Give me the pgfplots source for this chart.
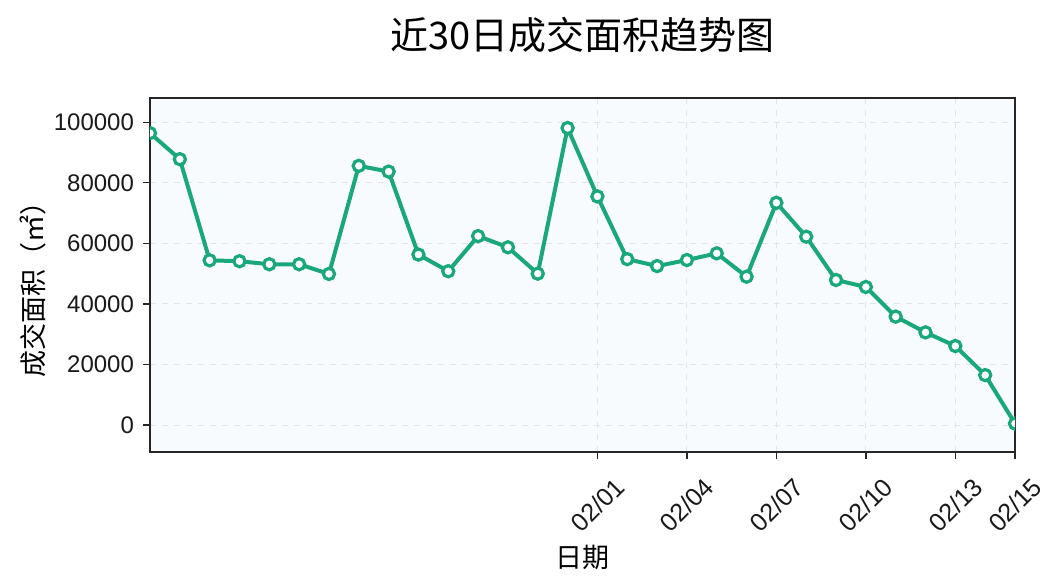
\documentclass[border=0pt]{standalone}
\usepackage{pgfplots}
\pgfplotsset{compat=1.18}
\usepackage{fontspec}
\setmainfont{Liberation Sans}
\newfontfamily\cjk{Noto Sans CJK SC}
\definecolor{lgreen}{RGB}{26,168,122}
\definecolor{axbg}{RGB}{248,251,253}
\definecolor{gridc}{RGB}{225,228,232}
\begin{document}
\begin{tikzpicture}[x=1pt,y=1pt]
\path (-75pt,-66.5pt) rectangle (457pt,226pt);
\begin{axis}[
  at={(0pt,0pt)}, anchor=south west,
  scale only axis, width=432.5pt, height=177pt,
  xmin=0, xmax=29, ymin=-8900, ymax=108000,
  axis background/.style={fill=axbg},
  axis line style={line width=0.7pt, black!85},
  xtick={15,18,21,24,27,29},
  xticklabels={02/01,02/04,02/07,02/10,02/13,02/15},
  ytick={0,20000,40000,60000,80000,100000},
  scaled y ticks=false,
  yticklabel style={/pgf/number format/fixed, /pgf/number format/1000 sep={}},
  /pgf/number format/assume math mode=true,
  tick label style={font=\fontsize{12}{12}\selectfont, black!90},
  xticklabel style={font=\fontsize{12.6}{13}\selectfont, yshift=-23pt, rotate=45, anchor=center},
  yticklabel style={xshift=-1pt},
  tick align=outside, major tick length=3.5pt,
  tick style={line width=0.7pt, black!85},
  xtick pos=bottom, ytick pos=left,
  grid=major,
  major grid style={dashed, gridc, line width=0.5pt},
  clip marker paths=true,
  title={\cjk\fontsize{19}{20}\selectfont 近30日成交面积趋势图},
  title style={at={(0.5,1)}, anchor=center, yshift=25.5pt},
  xlabel={\cjk\fontsize{13.5}{14}\selectfont 日期},
  ylabel={\cjk\fontsize{13.5}{14}\selectfont 成交面积（㎡）},
  xlabel style={at={(0.5,0)}, anchor=center, yshift=-52.5pt},
  ylabel style={at={(0,0.5)}, anchor=center, yshift=58.5pt, xshift=-4pt},
]
\addplot[color=lgreen, line width=2pt, mark=*, mark size=2.8pt,
  mark options={fill=white, draw=lgreen, line width=1.6pt}]
coordinates {
(0,96400) (1,87800) (2,54400) (3,54100) (4,53100) (5,53100) (6,49900)
(7,85600) (8,83700) (9,56300) (10,50800) (11,62400) (12,58700) (13,50000)
(14,98100) (15,75500) (16,54800) (17,52500) (18,54500) (19,56700) (20,49000)
(21,73400) (22,62200) (23,47900) (24,45600) (25,35800) (26,30600) (27,26100)
(28,16500) (29,500)
};
\end{axis}
\end{tikzpicture}
\end{document}
